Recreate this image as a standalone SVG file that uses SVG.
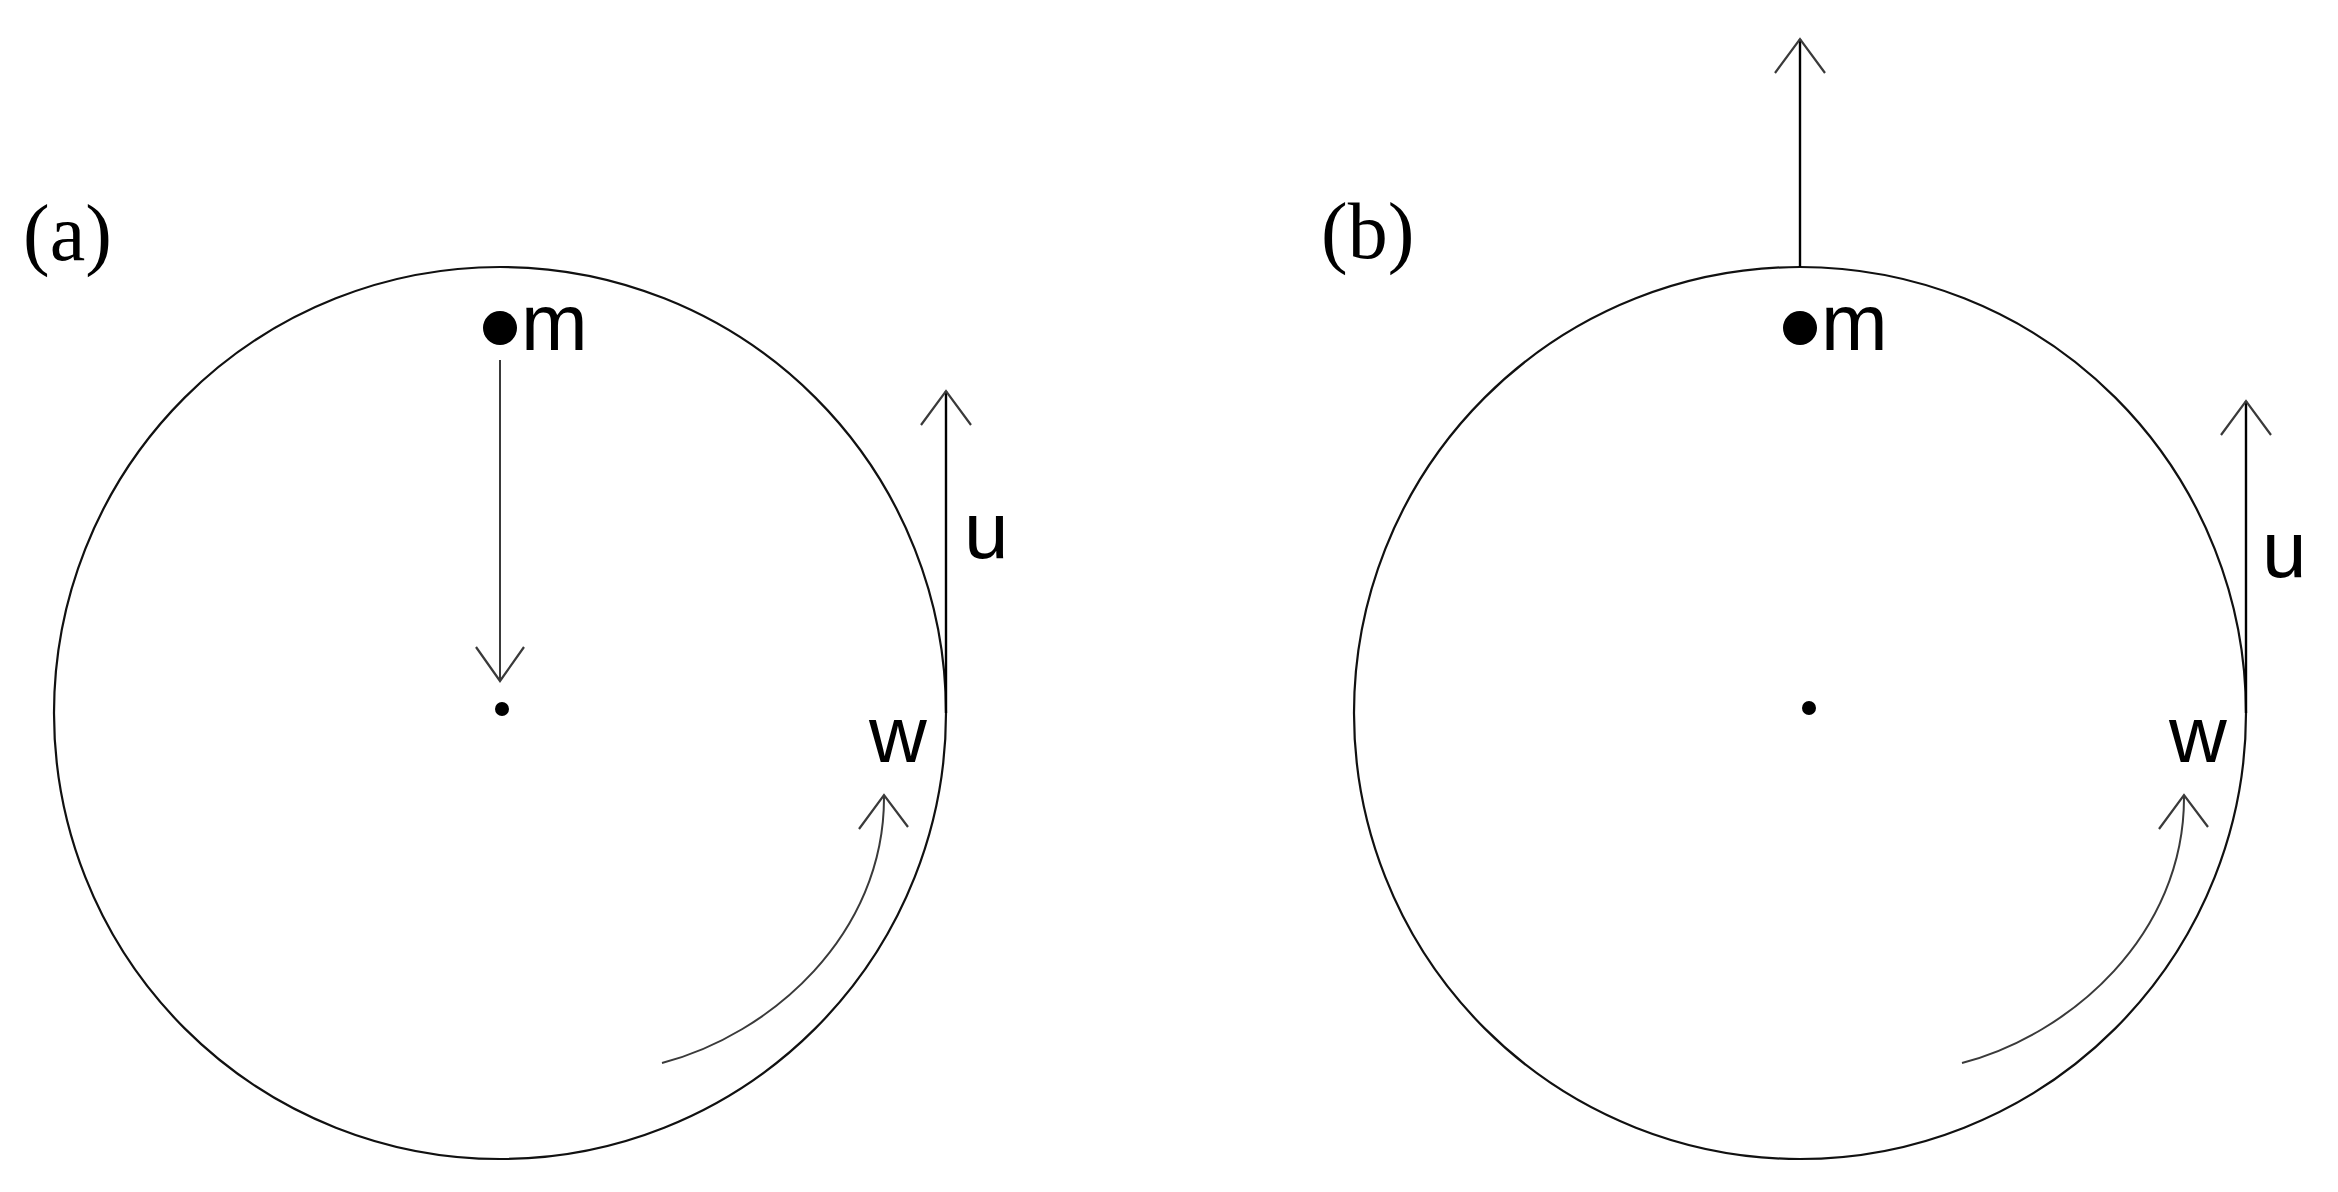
<svg xmlns="http://www.w3.org/2000/svg" width="2338" height="1192" viewBox="0 0 2338 1192">
<style>
.wheel{fill:none;stroke:#111;stroke-width:2.2}
.arr{fill:none;stroke:#000;stroke-width:2.4;stroke-linecap:butt}
.arrg{fill:none;stroke:#3a3a3a;stroke-width:2}
.head{fill:none;stroke:#3a3a3a;stroke-width:2.2;stroke-linejoin:miter}
.lbl{font-family:"Liberation Sans",Arial,sans-serif;font-size:80px;fill:#000}
.plbl{font-family:"Liberation Serif","Times New Roman",serif;font-size:80px;fill:#000}
</style>
<rect width="2338" height="1192" fill="#fff"/>
<g id="panel-a">
  <text class="plbl" x="23" y="260">(a)</text>
  <circle id="wheel-a" class="wheel" cx="500" cy="713" r="446"/>
  <g id="mass-a"><circle cx="500" cy="328" r="17" fill="#000"/><text class="lbl" x="521" y="350">m</text></g>
  <circle id="center-a" cx="502" cy="709" r="7" fill="#000"/>
  <text id="label-u-a" class="lbl" x="964" y="558">u</text>
  <text id="label-w-a" class="lbl" x="869" y="762">w</text>
</g>
<g id="panel-b">
  <text class="plbl" x="1321" y="258">(b)</text>
  <circle id="wheel-b" class="wheel" cx="1800" cy="713" r="446"/>
  <g id="mass-b"><circle cx="1800" cy="328" r="17" fill="#000"/><text class="lbl" x="1821" y="350">m</text></g>
  <circle id="center-b" cx="1809" cy="708" r="7" fill="#000"/>
  <text id="label-u-b" class="lbl" x="2262" y="577">u</text>
  <text id="label-w-b" class="lbl" x="2169" y="762">w</text>
</g>
<g id="connectors">
  <!-- panel a -->
  <line class="arrg" x1="500" y1="360" x2="500" y2="681"/>
  <polyline class="head" points="476,647 500,681 524,647"/>
  <line class="arr" x1="946" y1="713" x2="946" y2="391"/>
  <polyline class="head" points="921,425 946,391 971,425"/>
  <path class="arrg" d="M662,1063 C770,1035 885,935 884,796"/>
  <polyline class="head" points="859,829 884,795 908,827"/>
  <!-- panel b -->
  <line class="arr" x1="1800" y1="267" x2="1800" y2="39"/>
  <polyline class="head" points="1775,73 1800,39 1825,73"/>
  <line class="arr" x1="2246" y1="713" x2="2246" y2="401"/>
  <polyline class="head" points="2221,435 2246,401 2271,435"/>
  <path class="arrg" d="M1962,1063 C2070,1035 2185,935 2184,796"/>
  <polyline class="head" points="2159,829 2184,795 2208,827"/>
</g>
</svg>
